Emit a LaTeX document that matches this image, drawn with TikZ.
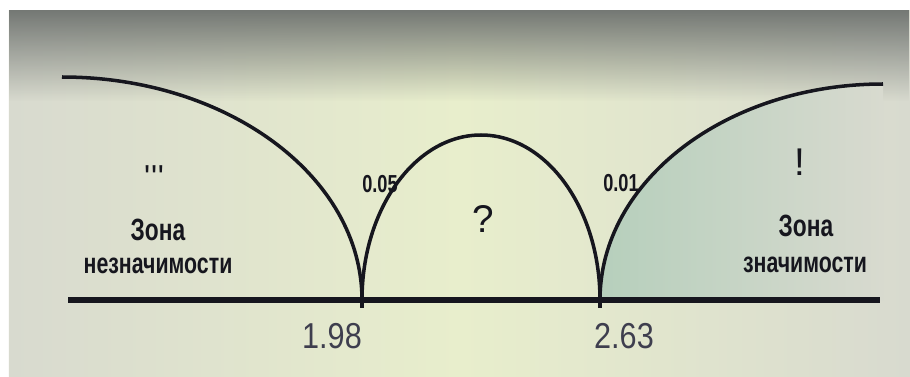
\documentclass[tikz,border=0pt]{standalone}
\usepackage{fontspec}
\setmainfont{Liberation Sans}
\newfontfamily\zonefont{Liberation Sans}[FakeStretch=0.74]
\newfontfamily\numfont{Liberation Sans}[FakeStretch=0.85]
\usepackage{tikz}
\usetikzlibrary{fadings}
\definecolor{bgc}{RGB}{216,218,207}
\definecolor{glowc}{RGB}{232,238,204}
\definecolor{topc}{RGB}{116,120,116}
\definecolor{zgreen}{RGB}{182,207,188}
\definecolor{inkc}{RGB}{22,22,30}
\definecolor{numc}{RGB}{62,62,78}
\tikzset{
	curve/.style={draw=inkc, line width=2pt},
	axisline/.style={draw=inkc, line width=3.4pt},
	tickln/.style={draw=inkc, line width=2pt},
	zone/.style={font=\zonefont\bfseries\fontsize{16.4}{18}\selectfont, text=inkc, inner sep=0pt},
	zonehead/.style={zone, font=\zonefont\bfseries\fontsize{17.5}{19}\selectfont},
	alpha/.style={font=\zonefont\bfseries\fontsize{14}{16}\selectfont, text=inkc, inner sep=0pt},
	signmark/.style={font=\fontsize{22}{26}\selectfont, text=inkc, inner sep=0pt},
	crit/.style={font=\numfont\fontsize{20.5}{22}\selectfont, text=numc, inner sep=0pt},
}

\begin{document}
\begin{tikzpicture}[x=1cm, y=1cm]
	% screen background
	\fill[white] (0,0) rectangle (18.2,7.52);
	\shade[left color=bgc, right color=bgc, middle color=glowc] (0.18,0) rectangle (18.2,7.32);
	\fill[topc, path fading=south] (0.18,5.5) rectangle (18.2,7.32);
	\useasboundingbox (0,0) rectangle (18.2,7.52);

	\coordinate (axl) at (1.36,1.52);
	\coordinate (axr) at (17.60,1.52);
	\coordinate (lt) at (1.24,5.98);
	\coordinate (p1) at (7.24,1.52);
	\coordinate (p2) at (12.00,1.52);
	\coordinate (rc) at (17.66,1.52);

	% significance zone
	\begin{scope}
		\clip (p2) arc[start angle=180, end angle=90, x radius=5.66, y radius=4.32] -- (rc) -- cycle;
		\shade[left color=zgreen, right color=bgc] (p2) rectangle (17.66,5.9);
	\end{scope}

	\draw[axisline] (axl) -- (axr);
	\draw[curve] (lt) arc[start angle=90, end angle=0, x radius=6.0, y radius=4.46];
	\draw[curve] (p1) arc[start angle=180, end angle=0, x radius=2.38, y radius=3.30];
	\draw[curve] (p2) arc[start angle=180, end angle=90, x radius=5.66, y radius=4.32];
	\draw[tickln] (p1) -- ++(0,-0.16);
	\draw[tickln] (p2) -- ++(0,-0.16);

	\node[zone] at (3.10,4.00) (dots) {\textquotesingle\textquotesingle\textquotesingle};
	\node[zonehead] at (3.16,2.92) (zl1) {Зона};
	\node[zone] at (3.16,2.20) (zl2) {незначимости};
	\node[alpha] at (7.60,3.84) (a5) {0.05};
	\node[signmark] at (9.66,3.14) (qm) {?};
	\node[alpha] at (12.42,3.86) (a1) {0.01};
	\node[signmark] at (16.00,4.28) (em) {!};
	\node[zonehead] at (16.12,3.00) (zr1) {Зона};
	\node[zone] at (16.10,2.22) (zr2) {значимости};
	\node[crit] at (6.64,0.80) (t1) {1.98};
	\node[crit] at (12.48,0.80) (t2) {2.63};
\end{tikzpicture}
\end{document}
